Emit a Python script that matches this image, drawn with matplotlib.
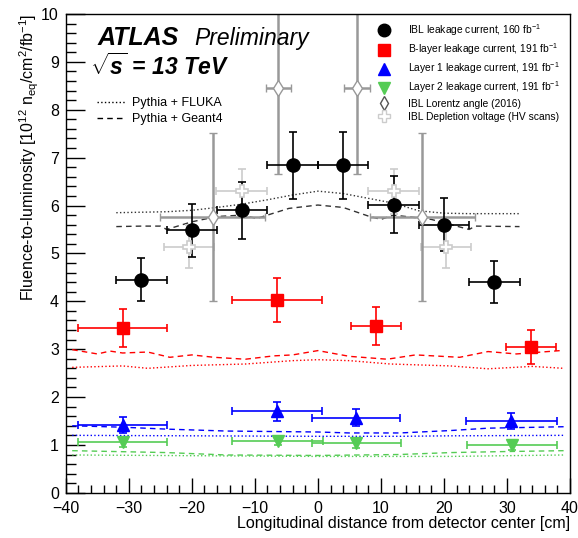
import numpy as np
import matplotlib
matplotlib.use('Agg')
import matplotlib.pyplot as plt
from matplotlib.lines import Line2D
from matplotlib.ticker import MultipleLocator

plt.rcParams['font.family'] = ['Liberation Sans', 'DejaVu Sans']
plt.rcParams['mathtext.fontset'] = 'custom'
plt.rcParams['mathtext.rm'] = 'Liberation Sans'
plt.rcParams['mathtext.it'] = 'Liberation Sans:italic'
plt.rcParams['mathtext.bf'] = 'Liberation Sans:bold'
plt.rcParams['mathtext.bfit'] = 'Liberation Sans:bold:italic'

# measured points
ibl_x = [-28, -20, -12, -4, 4, 12, 20, 28]
ibl_y = [4.45, 5.48, 5.90, 6.84, 6.84, 6.02, 5.60, 4.40]
ibl_xerr = [4, 4, 4, 4, 4, 4, 4, 4]
ibl_yerr = [0.45, 0.55, 0.60, 0.70, 0.70, 0.60, 0.55, 0.44]

bl_x = [-31, -6.5, 9.2, 33.8]
bl_y = [3.44, 4.02, 3.48, 3.04]
bl_xerr = [7.1, 7.2, 4.0, 4.0]
bl_yerr = [0.39, 0.46, 0.40, 0.35]

l1_x = [-31, -6.5, 6.0, 30.7]
l1_y = [1.41, 1.70, 1.57, 1.50]
l1_xerr = [7.1, 7.2, 7.0, 7.2]
l1_yerr = [0.17, 0.19, 0.18, 0.17]

l2_x = [-31, -6.4, 6.1, 30.8]
l2_y = [1.06, 1.09, 1.04, 1.00]
l2_xerr = [7.1, 7.2, 7.1, 7.1]
l2_yerr = [0.10, 0.10, 0.10, 0.10]

lor_x = [-16.7, -6.3, 6.2, 16.6]
lor_y = [5.76, 8.45, 8.45, 5.76]
lor_xerr = [8.3, 2.0, 2.0, 8.3]
lor_yerr = [1.75, 1.80, 1.80, 1.75]

dep_x = [-20.5, -12.1, 12.0, 20.3]
dep_y = [5.14, 6.30, 6.30, 5.14]
dep_xerr = [4, 4, 4, 4]
dep_yerr = [0.45, 0.47, 0.47, 0.45]

# simulation curves
ibl_fl_x = [-32, -28, -24, -20, -16, -12, -8, -4, 0, 4, 8, 12, 16, 20, 24, 28, 32]
ibl_fl_y = [5.85, 5.86, 5.87, 5.90, 5.96, 6.03, 6.12, 6.22, 6.30, 6.25, 6.15, 6.05, 5.89, 5.84, 5.83, 5.83, 5.83]
ibl_g4_x = [-32, -28, -25, -24, -20, -16, -12, -9.7, -4.6, 0, 4, 8, 10, 12, 18, 24, 25, 32]
ibl_g4_y = [5.56, 5.57, 5.57, 5.50, 5.66, 5.77, 5.80, 5.73, 5.94, 6.01, 5.96, 5.78, 5.71, 5.80, 5.71, 5.50, 5.57, 5.56]

bl_g4_x = [-39, -35, -33, -31, -27, -23.5, -20, -16.5, -11.5, -7, -4, 0, 5, 11, 15.5, 22.5, 27, 31.5, 38.5]
bl_g4_y = [2.99, 2.90, 2.96, 2.92, 2.94, 2.83, 2.88, 2.83, 2.79, 2.86, 2.88, 2.97, 2.85, 2.79, 2.88, 2.83, 2.95, 2.90, 2.97]
bl_fl_x = [-39, -31, -27, -20, -11.5, -4, 0, 5, 11.5, 21, 27, 34, 39]
bl_fl_y = [2.62, 2.65, 2.60, 2.66, 2.69, 2.76, 2.78, 2.76, 2.69, 2.65, 2.59, 2.64, 2.60]

l1_g4_x = [-39, -31, -24, -14.5, 0, 5, 13, 21, 27, 39]
l1_g4_y = [1.40, 1.37, 1.33, 1.29, 1.27, 1.25, 1.25, 1.30, 1.35, 1.38]
l1_fl_x = [-39, 0, 13, 21, 39]
l1_fl_y = [1.20, 1.18, 1.18, 1.19, 1.20]

l2_g4_x = [-39, -24, -14.5, 0, 13, 21, 29, 39]
l2_g4_y = [0.88, 0.84, 0.79, 0.78, 0.80, 0.84, 0.86, 0.88]
l2_fl_x = [-39, 0, 21, 39]
l2_fl_y = [0.79, 0.76, 0.76, 0.79]

red = '#ff0000'
blue = '#0000ff'
green = '#55cc55'

fig = plt.figure(figsize=(5.78, 5.38), dpi=100)
ax = fig.add_axes([0.114, 0.084, 0.872, 0.890])

# curves
ax.plot(ibl_fl_x, ibl_fl_y, ':', color='#333333', lw=1)
ax.plot(ibl_g4_x, ibl_g4_y, '--', color='#333333', lw=1, dashes=(4, 3))
ax.plot(bl_fl_x, bl_fl_y, ':', color=red, lw=1)
ax.plot(bl_g4_x, bl_g4_y, '--', color=red, lw=1, dashes=(4, 3))
ax.plot(l1_fl_x, l1_fl_y, ':', color=blue, lw=1)
ax.plot(l1_g4_x, l1_g4_y, '--', color=blue, lw=1, dashes=(4, 3))
ax.plot(l2_fl_x, l2_fl_y, ':', color=green, lw=1)
ax.plot(l2_g4_x, l2_g4_y, '--', color=green, lw=1, dashes=(4, 3))

eb = dict(linestyle='none', capsize=3, elinewidth=1.2, capthick=1.2)
ax.errorbar(dep_x, dep_y, xerr=dep_xerr, yerr=dep_yerr, marker='P', ms=9,
            mfc='white', mec='#cccccc', mew=1.2, color='#cccccc', **eb)
ax.errorbar(lor_x, lor_y, xerr=lor_xerr, yerr=lor_yerr, marker='d', ms=8,
            mfc='white', mec='#999999', mew=1.0, color='#999999',
            linestyle='none', capsize=3, elinewidth=1.8, capthick=1.2)
ax.errorbar(ibl_x, ibl_y, xerr=ibl_xerr, yerr=ibl_yerr, marker='o', ms=9.5,
            color='black', **eb)
ax.errorbar(bl_x, bl_y, xerr=bl_xerr, yerr=bl_yerr, marker='s', ms=8,
            color=red, **eb)
ax.errorbar(l1_x, l1_y, xerr=l1_xerr, yerr=l1_yerr, marker='^', ms=8,
            color=blue, **eb)
ax.errorbar(l2_x, l2_y, xerr=l2_xerr, yerr=l2_yerr, marker='v', ms=8,
            color=green, **eb)

ax.set_xlim(-40, 40)
ax.set_ylim(0, 10)
ax.xaxis.set_major_locator(MultipleLocator(10))
ax.xaxis.set_minor_locator(MultipleLocator(2))
ax.yaxis.set_major_locator(MultipleLocator(1))
ax.yaxis.set_minor_locator(MultipleLocator(0.2))
ax.tick_params(which='both', direction='in', labelsize=11.5, width=1)
ax.tick_params(which='major', length=11)
ax.tick_params(which='minor', length=6)
ax.tick_params(axis='y', which='major', length=14, pad=5)
ax.tick_params(axis='y', which='minor', length=7)
ax.tick_params(axis='x', pad=6)
for s in ax.spines.values():
    s.set_linewidth(1)

ax.set_xlabel('Longitudinal distance from detector center [cm]', fontsize=11.5,
              loc='right', labelpad=0)
ax.set_ylabel(r'Fluence-to-luminosity [10$^{12}$ n$_{\rm eq}$/cm$^{2}$/fb$^{-1}$]',
              fontsize=11.5, loc='top', labelpad=0)

ax.text(0.062, 0.935, 'ATLAS', transform=ax.transAxes, fontsize=18,
        fontweight='bold', style='italic')
ax.text(0.255, 0.935, 'Preliminary', transform=ax.transAxes, fontsize=16.5,
        style='italic')
ax.text(0.048, 0.873, r'$\sqrt{\mathbfit{s}}$ = 13 TeV', transform=ax.transAxes,
        fontsize=16.5, fontweight='bold', style='italic')

# legend for simulations
sim_handles = [Line2D([], [], color='black', ls=':', lw=1),
               Line2D([], [], color='black', ls='--', lw=1, dashes=(4, 3))]
leg1 = ax.legend(sim_handles, ['Pythia + FLUKA', 'Pythia + Geant4'],
                 loc='upper left', bbox_to_anchor=(0.04, 0.85), frameon=False,
                 fontsize=9, handlelength=2.3, handletextpad=0.5,
                 labelspacing=0.35)
ax.add_artist(leg1)

data_handles = [
    Line2D([], [], ls='none', marker='o', ms=9, color='black'),
    Line2D([], [], ls='none', marker='s', ms=8, color=red),
    Line2D([], [], ls='none', marker='^', ms=8, color=blue),
    Line2D([], [], ls='none', marker='v', ms=8, color=green),
    Line2D([], [], ls='none', marker='d', ms=7, mfc='white', mec='#555555'),
    Line2D([], [], ls='none', marker='P', ms=8, mfc='white', mec='#cccccc'),
]
data_labels = [
    r'IBL leakage current, 160 fb$^{-1}$',
    r'B-layer leakage current, 191 fb$^{-1}$',
    r'Layer 1 leakage current, 191 fb$^{-1}$',
    r'Layer 2 leakage current, 191 fb$^{-1}$',
    'IBL Lorentz angle (2016)',
    'IBL Depletion voltage (HV scans)',
]
ax.legend(data_handles, data_labels, loc='upper left',
          bbox_to_anchor=(0.595, 1.0), frameon=False, fontsize=7.4,
          handletextpad=1.3, labelspacing=0.32, borderpad=0.3)

fig.savefig('out.png', dpi=100)
